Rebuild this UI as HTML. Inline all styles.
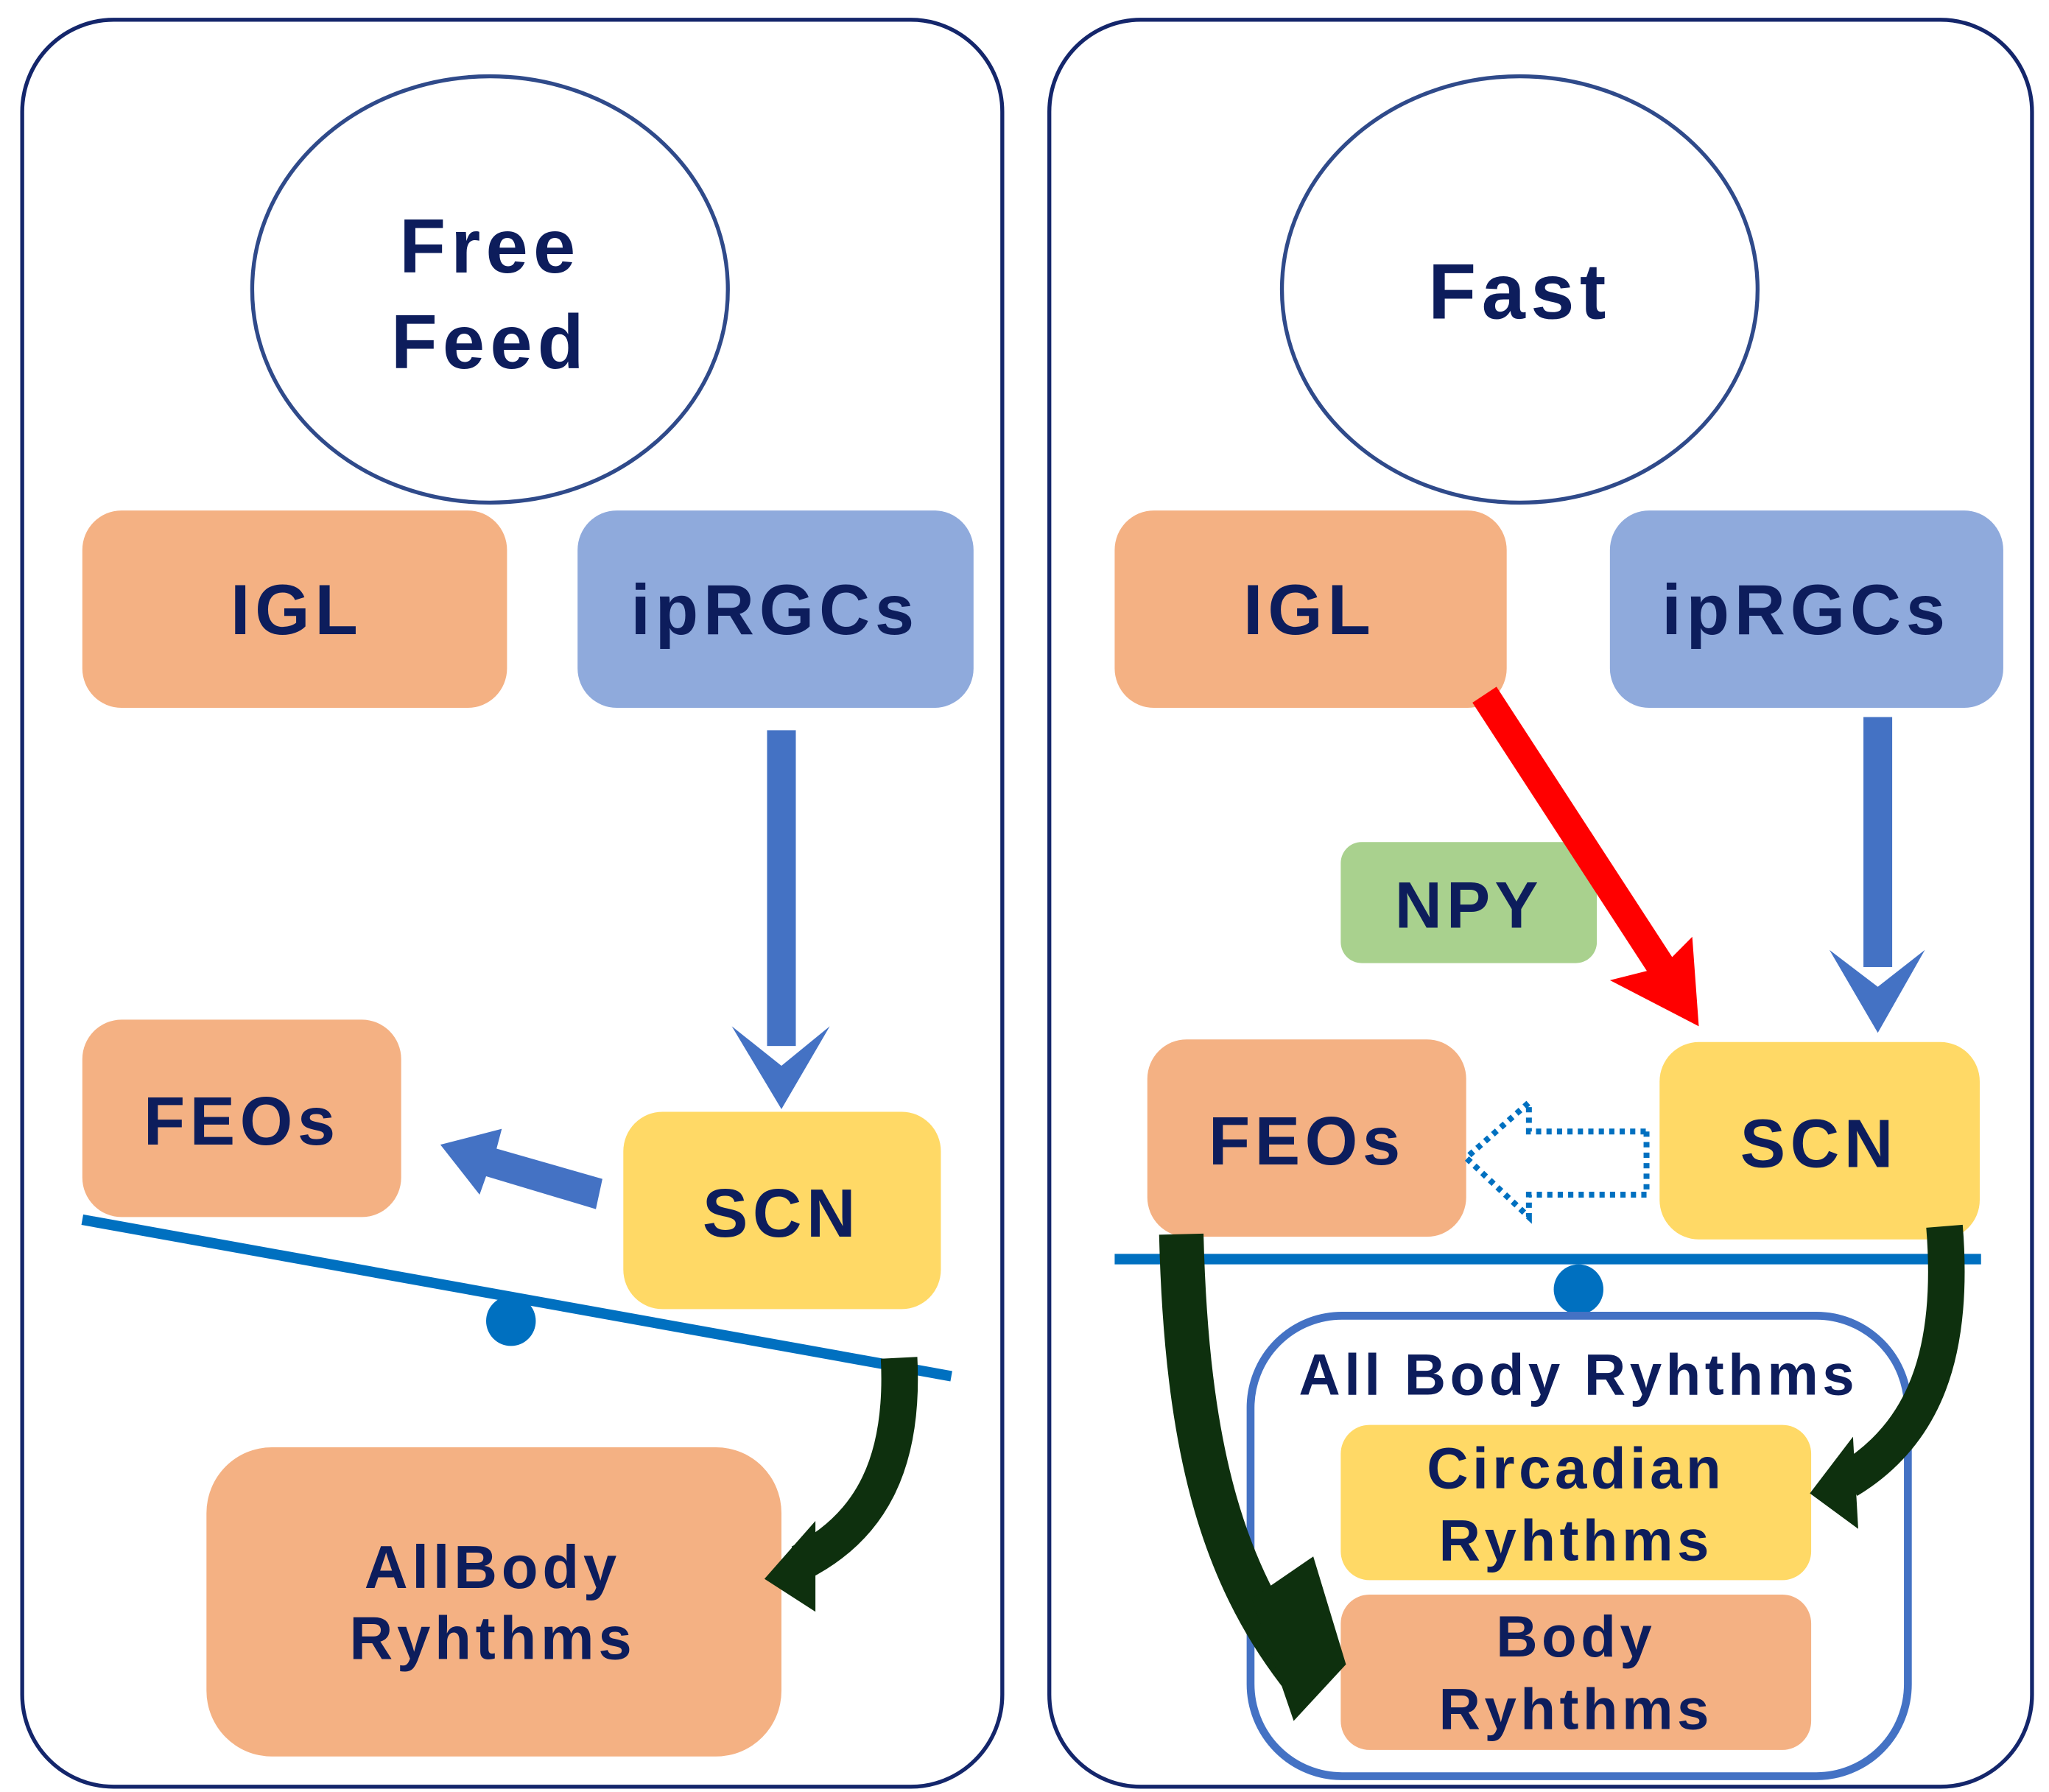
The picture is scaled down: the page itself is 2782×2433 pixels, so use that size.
<!DOCTYPE html>
<html><head><meta charset="utf-8"><style>
html,body{margin:0;padding:0;background:#fff;}
svg{display:block}
text{font-family:"Liberation Sans",Arial,sans-serif;font-weight:bold;fill:#0d1d5c;text-anchor:middle;letter-spacing:0.07em}
</style></head><body>
<svg width="2782" height="2433" viewBox="0 0 1568 1362" preserveAspectRatio="none" xmlns="http://www.w3.org/2000/svg">
<rect x="17" y="15" width="750" height="1343" rx="70" fill="#fff" stroke="#14266b" stroke-width="3"/>
<rect x="803" y="15" width="752" height="1343" rx="70" fill="#fff" stroke="#14266b" stroke-width="3"/>

<ellipse cx="375" cy="220" rx="182" ry="162" fill="#fff" stroke="#2f4a8a" stroke-width="3"/>
<text x="375" y="207" font-size="58">Free</text>
<text x="375" y="280" font-size="58">Feed</text>
<rect x="63" y="388" width="325" height="150" rx="30" fill="#f4b183"/>
<text x="227" y="482" font-size="54">IGL</text>
<rect x="442" y="388" width="303" height="150" rx="30" fill="#8faadc"/>
<text x="593" y="482" font-size="54">ipRGCs</text>
<rect x="587" y="555" width="22" height="240" fill="#4472c4"/>
<polygon points="560,780 598,810 635,780 598,843" fill="#4472c4"/>
<rect x="63" y="775" width="244" height="150" rx="30" fill="#f4b183"/>
<text x="185" y="870" font-size="52">FEOs</text>
<rect x="477" y="845" width="243" height="150" rx="30" fill="#ffd966"/>
<text x="598" y="940" font-size="52">SCN</text>
<polygon points="461,896 456,919 372,894 367,908 337,870 384,858 380,873" fill="#4472c4"/>
<line x1="63" y1="927" x2="728" y2="1046" stroke="#0070c0" stroke-width="8"/>
<circle cx="391" cy="1004" r="19" fill="#0070c0"/>
<rect x="158" y="1100" width="440" height="235" rx="50" fill="#f4b183"/>
<text x="377" y="1207" font-size="46">AllBody</text>
<text x="377" y="1261" font-size="46">Ryhthms</text>
<path d="M688,1032 C692,1110 668,1160 612,1188" fill="none" stroke="#0e300e" stroke-width="28"/>
<polygon points="585,1200 624,1156 624,1225" fill="#0e300e"/>

<ellipse cx="1163" cy="220" rx="182" ry="162" fill="#fff" stroke="#2f4a8a" stroke-width="3"/>
<text x="1163" y="242" font-size="60">Fast</text>
<rect x="853" y="388" width="300" height="150" rx="30" fill="#f4b183"/>
<text x="1002" y="482" font-size="54">IGL</text>
<rect x="1232" y="388" width="301" height="150" rx="30" fill="#8faadc"/>
<text x="1382" y="482" font-size="54">ipRGCs</text>
<rect x="1026" y="640" width="196" height="92" rx="16" fill="#a9d18e"/>
<text x="1124" y="705" font-size="50">NPY</text>
<line x1="1136" y1="528" x2="1278" y2="745" stroke="#ff0000" stroke-width="22"/>
<polygon points="1300,780 1232,745 1272,735 1295,712" fill="#ff0000"/>
<rect x="1426" y="545" width="22" height="190" fill="#4472c4"/>
<polygon points="1400,722 1437,750 1473,722 1437,785" fill="#4472c4"/>
<rect x="878" y="790" width="244" height="150" rx="30" fill="#f4b183"/>
<text x="1000" y="885" font-size="52">FEOs</text>
<rect x="1270" y="792" width="245" height="150" rx="30" fill="#ffd966"/>
<text x="1392" y="887" font-size="52">SCN</text>
<polygon points="1260,860 1260,908 1170,908 1170,925 1122,880 1170,838 1170,860" fill="none" stroke="#0070c0" stroke-width="4.5" stroke-dasharray="4,4"/>
<line x1="853" y1="957" x2="1516" y2="957" stroke="#0070c0" stroke-width="8"/>
<circle cx="1208" cy="980" r="19" fill="#0070c0"/>
<rect x="957" y="1000" width="503" height="350" rx="70" fill="#fff" stroke="#4472c4" stroke-width="6"/>
<text x="1208" y="1060" font-size="44">All Body  Ryhthms</text>
<rect x="1026" y="1083" width="360" height="118" rx="22" fill="#ffd966"/>
<text x="1206" y="1131" font-size="44">Circadian</text>
<text x="1206" y="1186" font-size="44">Ryhthms</text>
<rect x="1026" y="1212" width="360" height="118" rx="22" fill="#f4b183"/>
<text x="1206" y="1259" font-size="44">Body</text>
<text x="1206" y="1314" font-size="44">Ryhthms</text>
<path d="M1488,932 C1496,1030 1472,1090 1414,1125" fill="none" stroke="#0e300e" stroke-width="28"/>
<polygon points="1385,1135 1418,1092 1422,1162" fill="#0e300e"/>
<path d="M904,938 C908,1100 935,1195 995,1272" fill="none" stroke="#0e300e" stroke-width="34"/>
<polygon points="1030,1265 1005,1183 958,1215 990,1308" fill="#0e300e"/>
</svg>
</body></html>
